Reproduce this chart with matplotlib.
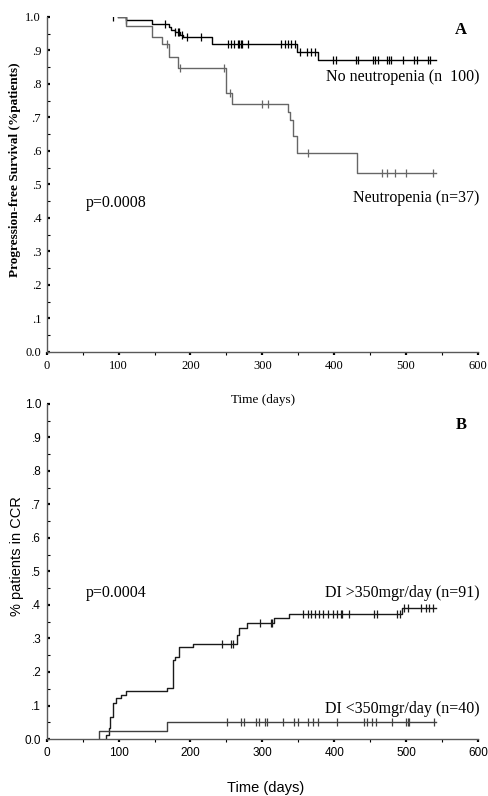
import numpy as np
import matplotlib.pyplot as plt

# ---- panel A: progression-free survival by neutropenia
a_no_t = [99, 111, 146, 170, 173, 178, 185, 190, 230, 348, 377, 542]
a_no_s = [1.0, 0.99, 0.98, 0.97, 0.96, 0.955, 0.945, 0.94, 0.92, 0.896, 0.872, 0.872]
a_no_cens = [92, 111, 164, 178, 182, 184, 188, 195, 215, 252, 256, 261, 266, 268, 270, 272, 280,
             326, 331, 336, 340, 345, 352, 362, 368, 373, 398, 403, 430, 433, 454, 457, 461,
             474, 476, 479, 495, 511, 515, 530, 533]

a_neu_t = [99, 111, 146, 160, 170, 182, 250, 258, 335, 338, 342, 348, 432, 542]
a_neu_s = [1.0, 0.973, 0.941, 0.919, 0.881, 0.849, 0.772, 0.739, 0.717, 0.693, 0.646, 0.593, 0.535, 0.535]
a_neu_cens = [167, 185, 246, 255, 300, 308, 363, 467, 474, 484, 500, 537]

# ---- panel B: % patients in CCR by dose intensity
b_hi_t = [83, 86, 88, 92, 97, 104, 111, 167, 176, 179, 184, 204, 265, 267, 279, 316, 337, 494, 541]
b_hi_s = [0.011, 0.033, 0.066, 0.107, 0.122, 0.131, 0.143, 0.152, 0.235, 0.245, 0.275, 0.284,
          0.31, 0.331, 0.345, 0.36, 0.372, 0.39, 0.39]
b_hi_cens = [244, 256, 259, 297, 312, 314, 356, 363, 368, 373, 379, 385, 391, 398, 404, 409, 411,
             420, 455, 460, 488, 492, 497, 502, 521, 528, 532, 537]

b_lo_t = [73, 167, 541]
b_lo_s = [0.025, 0.05, 0.05]
b_lo_cens = [251, 270, 275, 291, 295, 303, 307, 329, 344, 349, 363, 370, 377, 404, 442, 446,
             452, 458, 481, 500, 502, 504, 539]

xticks = [0, 100, 200, 300, 400, 500, 600]
yticks = [0.0, 0.1, 0.2, 0.3, 0.4, 0.5, 0.6, 0.7, 0.8, 0.9, 1.0]
yticklabels = ['0.0', '.1', '.2', '.3', '.4', '.5', '.6', '.7', '.8', '.9', '1.0']

SERIF = 'Liberation Serif'
SANS = 'Liberation Sans'


def step_val(t, times, vals, start):
    # value of the step curve at time t
    v = start
    for tt, vv in zip(times, vals):
        if t >= tt:
            v = vv
    return v


def draw_curve(ax, times, vals, cens, start, color, lw=1.0):
    ax.step([times[0]] + times, [start] + vals, where='post', color=color, lw=lw)
    cy = [step_val(c, times, vals, start) for c in cens]
    ax.plot(cens, cy, '|', color=color, markersize=5.5, mew=0.9)


def style_axes(ax, family, fs):
    ax.set_xlim(0, 600)
    ax.set_ylim(0, 1.0)
    ax.spines['top'].set_visible(False)
    ax.spines['right'].set_visible(False)
    for s in ['left', 'bottom']:
        ax.spines[s].set_color('0.35')
        ax.spines[s].set_linewidth(1.0)
    ax.set_xticks(xticks)
    ax.set_xticks(np.arange(50, 600, 100), minor=True)
    ax.set_yticks(yticks)
    ax.set_yticks(np.arange(0.05, 1.0, 0.1), minor=True)
    ax.set_yticklabels(yticklabels, fontfamily=family, fontsize=fs)
    ax.set_xticklabels([str(x) for x in xticks], fontfamily=family, fontsize=fs)
    ax.tick_params(axis='y', which='major', direction='in', length=2.5, width=1.6, pad=4)
    ax.tick_params(axis='y', which='minor', direction='in', length=2.0, width=0.8)
    ax.tick_params(axis='x', which='major', direction='out', length=2.5, width=1.6, pad=3)
    ax.tick_params(axis='x', which='minor', direction='out', length=2.5, width=0.8)


fig = plt.figure(figsize=(4.89, 7.96), dpi=100)

# panel A
axA = fig.add_axes([0.0955, 0.5578, 0.882, 0.4209])
draw_curve(axA, a_no_t, a_no_s, a_no_cens, 1.0, 'black', lw=1.0)
draw_curve(axA, a_neu_t, a_neu_s, a_neu_cens, 1.0, '0.4', lw=1.0)
style_axes(axA, SERIF, 9)
axA.text(0.975, 0.985, 'A', transform=axA.transAxes, ha='right', va='top',
         fontfamily=SERIF, fontweight='bold', fontsize=12)
axA.text(602, 0.82, 'No neutropenia (n  100)', ha='right', va='center',
         fontfamily=SERIF, fontsize=11.5)
axA.text(602, 0.46, 'Neutropenia (n=37)', ha='right', va='center',
         fontfamily=SERIF, fontsize=11.5)
axA.text(55, 0.445, 'p=0.0008', ha='left', va='center', fontfamily=SERIF, fontsize=11.5)
fig.text(0.031, (796 - 170) / 796, 'Progression-free Survival (%patients)', rotation=90,
         ha='center', va='center', fontfamily=SERIF, fontweight='bold', fontsize=9.5)
fig.text(0.537, (796 - 400) / 796, 'Time (days)', ha='center', va='center',
         fontfamily=SERIF, fontsize=9.5)

# panel B
axB = fig.add_axes([0.0955, 0.0716, 0.882, 0.4209])
draw_curve(axB, b_hi_t, b_hi_s, b_hi_cens, 0.0, '0.1', lw=1.0)
draw_curve(axB, b_lo_t, b_lo_s, b_lo_cens, 0.0, '0.25', lw=1.0)
style_axes(axB, SANS, 8.5)
axB.text(0.975, 0.96, 'B', transform=axB.transAxes, ha='right', va='top',
         fontfamily=SERIF, fontweight='bold', fontsize=12)
axB.text(602, 0.435, 'DI >350mgr/day (n=91)', ha='right', va='center',
         fontfamily=SERIF, fontsize=11.5)
axB.text(602, 0.09, 'DI <350mgr/day (n=40)', ha='right', va='center',
         fontfamily=SERIF, fontsize=11.5)
axB.text(55, 0.435, 'p=0.0004', ha='left', va='center', fontfamily=SERIF, fontsize=11.5)
fig.text(0.034, (796 - 556) / 796, '% patients in CCR', rotation=90,
         ha='center', va='center', fontfamily=SANS, fontsize=10.5)
fig.text(0.544, (796 - 788) / 796, 'Time (days)', ha='center', va='center',
         fontfamily=SANS, fontsize=10.5)

fig.savefig('out.png', dpi=100)
